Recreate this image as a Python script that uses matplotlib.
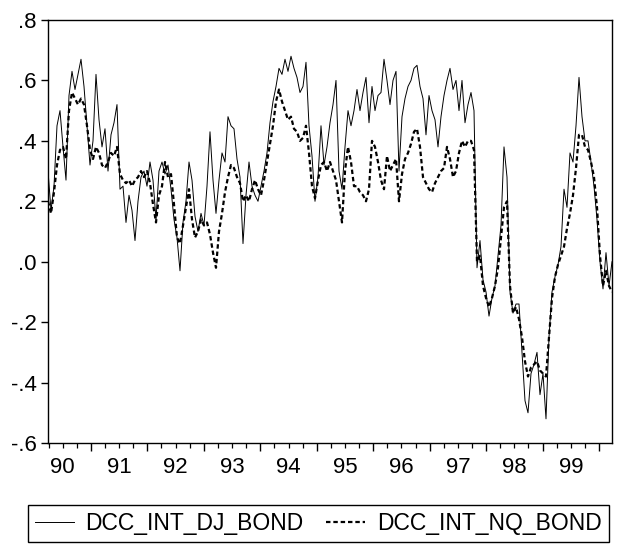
import matplotlib
matplotlib.use("Agg")
import matplotlib.pyplot as plt
import numpy as np
from matplotlib.ticker import FixedLocator, FuncFormatter

# sample dates run from about April 1990 to March 2000
DATE_START = 1990.24
DATE_END = 2000.23

DCC_INT_DJ_BOND = [
    0.30, 0.17, 0.25, 0.45, 0.50, 0.38, 0.27, 0.55, 0.63, 0.57,
    0.62, 0.67, 0.58, 0.45, 0.32, 0.40, 0.62, 0.47, 0.38, 0.44,
    0.30, 0.42, 0.46, 0.52, 0.24, 0.25, 0.13, 0.22, 0.17, 0.07,
    0.20, 0.28, 0.30, 0.25, 0.33, 0.27, 0.14, 0.30, 0.33, 0.29,
    0.32, 0.24, 0.14, 0.08, -0.03, 0.13, 0.20, 0.33, 0.27, 0.15,
    0.10, 0.16, 0.12, 0.25, 0.43, 0.27, 0.16, 0.27, 0.36, 0.33,
    0.48, 0.45, 0.44, 0.34, 0.28, 0.06, 0.22, 0.33, 0.25, 0.22,
    0.20, 0.25, 0.30, 0.36, 0.46, 0.53, 0.58, 0.64, 0.62, 0.67,
    0.63, 0.68, 0.64, 0.61, 0.56, 0.58, 0.66, 0.45, 0.35, 0.20,
    0.28, 0.45, 0.32, 0.38, 0.46, 0.52, 0.60, 0.30, 0.24, 0.38,
    0.50, 0.45, 0.50, 0.57, 0.50, 0.56, 0.61, 0.46, 0.58, 0.50,
    0.55, 0.56, 0.67, 0.60, 0.52, 0.60, 0.63, 0.30, 0.48, 0.54,
    0.58, 0.60, 0.64, 0.65, 0.58, 0.54, 0.42, 0.55, 0.50, 0.47,
    0.38, 0.48, 0.55, 0.60, 0.64, 0.57, 0.60, 0.50, 0.60, 0.46,
    0.52, 0.56, 0.50, -0.02, 0.07, -0.06, -0.10, -0.18, -0.12, -0.08,
    0.02, 0.12, 0.38, 0.28, -0.10, -0.17, -0.14, -0.14, -0.30, -0.46,
    -0.50, -0.37, -0.34, -0.30, -0.44, -0.37, -0.52, -0.25, -0.10, -0.05,
    -0.01, 0.05, 0.24, 0.18, 0.36, 0.33, 0.45, 0.61, 0.48, 0.40,
    0.40, 0.33, 0.25, 0.14, 0.00, -0.09, 0.03, -0.08, 0.00,
]

DCC_INT_NQ_BOND = [
    0.20, 0.16, 0.23, 0.32, 0.37, 0.38, 0.34, 0.50, 0.56, 0.54,
    0.52, 0.54, 0.52, 0.45, 0.37, 0.34, 0.38, 0.36, 0.32, 0.31,
    0.33, 0.36, 0.35, 0.38, 0.29, 0.27, 0.26, 0.27, 0.25, 0.27,
    0.28, 0.30, 0.28, 0.30, 0.26, 0.19, 0.13, 0.22, 0.25, 0.33,
    0.28, 0.29, 0.19, 0.08, 0.06, 0.12, 0.18, 0.24, 0.14, 0.08,
    0.10, 0.14, 0.12, 0.13, 0.09, 0.03, -0.02, 0.10, 0.16, 0.23,
    0.28, 0.32, 0.31, 0.28, 0.26, 0.20, 0.22, 0.20, 0.24, 0.27,
    0.24, 0.22, 0.27, 0.33, 0.39, 0.45, 0.53, 0.57, 0.53, 0.50,
    0.47, 0.48, 0.44, 0.43, 0.40, 0.41, 0.45, 0.36, 0.25, 0.21,
    0.27, 0.32, 0.33, 0.30, 0.33, 0.30, 0.27, 0.20, 0.13, 0.30,
    0.38, 0.33, 0.25, 0.25, 0.23, 0.22, 0.20, 0.24, 0.40, 0.38,
    0.33, 0.27, 0.24, 0.35, 0.30, 0.32, 0.34, 0.20, 0.29, 0.34,
    0.36, 0.39, 0.43, 0.44, 0.38, 0.28, 0.26, 0.24, 0.23, 0.26,
    0.28, 0.30, 0.31, 0.38, 0.34, 0.28, 0.30, 0.36, 0.40, 0.38,
    0.40, 0.40, 0.37, 0.00, 0.02, -0.08, -0.12, -0.15, -0.12, -0.08,
    -0.02, 0.08, 0.18, 0.20, -0.08, -0.17, -0.15, -0.19, -0.25, -0.33,
    -0.38, -0.35, -0.34, -0.33, -0.36, -0.37, -0.38, -0.25, -0.12, -0.05,
    -0.01, 0.02, 0.05, 0.11, 0.16, 0.22, 0.31, 0.42, 0.42, 0.38,
    0.37, 0.33, 0.28, 0.18, 0.02, -0.08, -0.03, -0.08, -0.10,
]

YEAR_LABELS = ["90", "91", "92", "93", "94", "95", "96", "97", "98", "99"]
Y_TICKS = [-0.6, -0.4, -0.2, 0.0, 0.2, 0.4, 0.6, 0.8]


def eviews_fmt(v, pos=None):
    s = f"{v:.1f}"
    return s.replace("0.", ".")


plt.rcParams.update({
    "font.family": ["Liberation Sans", "DejaVu Sans"],
    "axes.linewidth": 1.0,
    "axes.edgecolor": "black",
})

fig = plt.figure(figsize=(6.26, 5.44), dpi=100)
ax = fig.add_axes([48 / 626, 1 - 443 / 544, 564 / 626, 423 / 544])

dates = np.linspace(DATE_START, DATE_END, len(DCC_INT_DJ_BOND))
ax.plot(dates, DCC_INT_DJ_BOND, color="black", linewidth=0.7,
        label="DCC_INT_DJ_BOND")
ax.plot(dates, DCC_INT_NQ_BOND, color="black", linewidth=1.6,
        linestyle=(0, (2.0, 1.3)), label="DCC_INT_NQ_BOND")

ax.set_xlim(DATE_START, DATE_END)
ax.set_ylim(-0.6, 0.8)

# year boundaries get the long ticks, quarters the short ones
first_year = int(YEAR_LABELS[0]) + 1900
year_starts = [first_year + i for i in range(1, len(YEAR_LABELS) + 1)]
quarters = [y + q / 4 for y in range(first_year, first_year + len(YEAR_LABELS) + 1)
            for q in (1, 2, 3)]
quarters = [q for q in quarters if DATE_START <= q <= DATE_END]
ax.xaxis.set_major_locator(FixedLocator(year_starts))
ax.xaxis.set_minor_locator(FixedLocator(quarters))
ax.set_xticklabels([])
ax.tick_params(axis="x", which="major", direction="out", length=6, width=1.0)
ax.tick_params(axis="x", which="minor", direction="out", length=3.5, width=0.9)

for i, lab in enumerate(YEAR_LABELS):
    ax.text(first_year + i + 0.5, -0.034, lab, transform=ax.get_xaxis_transform(),
            ha="center", va="top", fontsize=16)

ax.set_yticks(Y_TICKS)
ax.yaxis.set_major_formatter(FuncFormatter(eviews_fmt))
ax.tick_params(axis="y", direction="out", length=5, width=1.0, pad=3,
               labelsize=16)

fig.legend(loc="lower left", bbox_to_anchor=(28 / 626, 2 / 544), ncol=2,
           fontsize=16.5, frameon=True, fancybox=False, edgecolor="black",
           framealpha=1, handlelength=1.7, handletextpad=0.5,
           columnspacing=1.0, borderpad=0.3, borderaxespad=0)

fig.savefig("out.png", dpi=100)
